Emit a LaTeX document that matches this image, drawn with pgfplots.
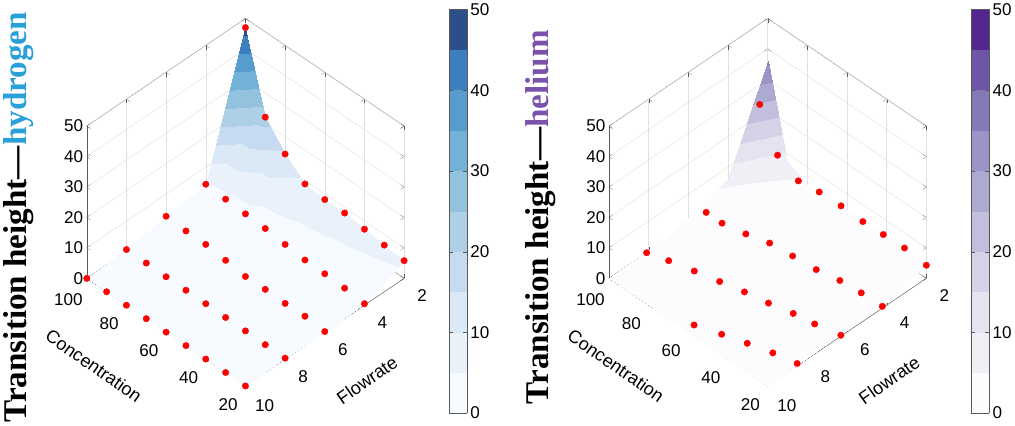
\documentclass[border=0pt]{standalone}
\usepackage{fontspec}
\setmainfont{Liberation Sans}
\newfontfamily\tnr{Liberation Serif}
\usepackage{pgfplots}
\pgfplotsset{compat=1.18}
\definecolor{hcol}{HTML}{29A0D8}
\definecolor{pcol}{HTML}{7B52AB}
\definecolor{hA}{HTML}{F7FBFF}\definecolor{hB}{HTML}{E9F1FA}\definecolor{hC}{HTML}{DBE9F6}\definecolor{hD}{HTML}{C6DBEF}\definecolor{hE}{HTML}{ADD0E6}
\definecolor{hF}{HTML}{92C2DE}\definecolor{hG}{HTML}{73B1D7}\definecolor{hH}{HTML}{569CCD}\definecolor{hI}{HTML}{3C7FBE}\definecolor{hJ}{HTML}{2B4F8A}
\definecolor{pA}{HTML}{FCFBFD}\definecolor{pB}{HTML}{F0EFF6}\definecolor{pC}{HTML}{E4E3EF}\definecolor{pD}{HTML}{D3D2E7}\definecolor{pE}{HTML}{C1BFDD}
\definecolor{pF}{HTML}{ADAAD2}\definecolor{pG}{HTML}{9A95C6}\definecolor{pH}{HTML}{8679B8}\definecolor{pI}{HTML}{6F55A5}\definecolor{pJ}{HTML}{54278F}
\pgfplotsset{
  mybase/.style={
    view={-135}{45}, plot box ratio=1 1 1,
    scale only axis, width=316pt, height=366pt,
    xmin=20,xmax=100,ymin=2,ymax=10,zmin=0,zmax=50,
    xtick={20,40,...,100}, ytick={2,4,...,10}, ztick={0,10,...,50},
    grid=major, major grid style={gray!25},
    axis line style={gray!70!black}, tick style={gray!70!black},
    tick label style={font=\fontsize{17}{17}\selectfont},
    xticklabel style={xshift=-10pt, yshift=-5pt},
    yticklabel style={xshift=12pt, yshift=-6pt},
    /pgf/number format/assume math mode=true,
    clip=false,
    colorbar,
    point meta min=0, point meta max=50,
    colormap access=piecewise constant,
    colorbar style={width=18pt, height=402pt, ytick={0,10,...,50},
      at={(parent axis.east)}, anchor=west, xshift=36pt, yshift=-9pt,
      axis line style={gray!70!black},
      tick label style={font=\fontsize{17}{17}\selectfont},
      /pgf/number format/assume math mode=true},
  },
  dots/.style={only marks, mark=*, mark size=3.2pt, red, mark options={draw=none, fill=red}},
}
\tikzset{lab/.style={anchor=center, font=\fontsize{18}{18}\selectfont},
  big/.style={rotate=90, anchor=center, font=\tnr\bfseries\fontsize{33}{33}\selectfont}}
\begin{document}
\begin{tikzpicture}
\begin{axis}[mybase, name=h,
  colormap={hyd}{color(0)=(hA) color(1)=(hB) color(2)=(hC) color(3)=(hD) color(4)=(hE) color(5)=(hF) color(6)=(hG) color(7)=(hH) color(8)=(hI) color(9)=(hJ) color(10)=(hJ)},
]
\addplot3[surf, shader=interp] table[row sep=\\] {
x y z\\
20 2 5.8\\ 30 2 6.5\\ 40 2 7.3\\ 50 2 8.2\\ 60 2 8.2\\ 70 2 8.9\\ 80 2 14.3\\ 90 2 22\\ 100 2 47\\
\\
20 4 0.5\\ 30 4 1.2\\ 40 4 1.5\\ 50 4 1.6\\ 60 4 2.3\\ 70 4 3.1\\ 80 4 3.5\\ 90 4 3.9\\ 100 4 4.4\\
\\
20 6 0.2\\ 30 6 0.8\\ 40 6 0.6\\ 50 6 0.8\\ 60 6 0.6\\ 70 6 1.5\\ 80 6 2.3\\ 90 6 2.3\\ 100 6 2.7\\
\\
20 8 0.3\\ 30 8 0.3\\ 40 8 0.4\\ 50 8 0.4\\ 60 8 0.5\\ 70 8 0.5\\ 80 8 0.5\\ 90 8 0.6\\ 100 8 0.6\\
\\
20 10 0\\ 30 10 0\\ 40 10 0\\ 50 10 0\\ 60 10 0\\ 70 10 0\\ 80 10 0\\ 90 10 0\\ 100 10 0\\
};
\addplot3[dots] table[row sep=\\] {
x y z\\
20 2 5.8\\ 30 2 6.5\\ 40 2 7.3\\ 50 2 8.2\\ 60 2 8.2\\ 70 2 8.9\\ 80 2 14.3\\ 90 2 22\\ 100 2 47\\
20 4 0.5\\ 30 4 1.2\\ 40 4 1.5\\ 50 4 1.6\\ 60 4 2.3\\ 70 4 3.1\\ 80 4 3.5\\ 90 4 3.9\\ 100 4 4.4\\
20 6 0.2\\ 30 6 0.8\\ 40 6 0.6\\ 50 6 0.8\\ 60 6 0.6\\ 70 6 1.5\\ 80 6 2.3\\ 90 6 2.3\\ 100 6 2.7\\
20 8 0.3\\ 30 8 0.3\\ 40 8 0.4\\ 50 8 0.4\\ 60 8 0.5\\ 70 8 0.5\\ 80 8 0.5\\ 90 8 0.6\\ 100 8 0.6\\
20 10 0\\ 30 10 0\\ 40 10 0\\ 50 10 0\\ 60 10 0\\ 70 10 0\\ 80 10 0\\ 90 10 0\\ 100 10 0\\
};
\end{axis}
\node[big] at ([xshift=-68pt,yshift=-15pt]h.west) {Transition height—\textcolor{hcol}{hydrogen}};
\node[lab, rotate=-35] at ([xshift=7pt,yshift=-163pt]h.west) {Concentration};
\node[lab, rotate=35] at ([xshift=-37pt,yshift=-177pt]h.east) {Flowrate};
\begin{axis}[mybase, name=p, at={(520pt,0)},
  colormap={hel}{color(0)=(pA) color(1)=(pB) color(2)=(pC) color(3)=(pD) color(4)=(pE) color(5)=(pF) color(6)=(pG) color(7)=(pH) color(8)=(pI) color(9)=(pJ) color(10)=(pJ)},
]
\addplot3[surf, shader=interp] table[row sep=\\] {
x y z\\
20 2 4.3\\ 30 2 5\\ 40 2 4.8\\ 50 2 4.5\\ 60 2 4.8\\ 70 2 4.5\\ 80 2 4\\ 90 2 7.5\\ 100 2 36\\
\\
20 4 1\\ 30 4 1\\ 40 4 1\\ 50 4 1\\ 60 4 1\\ 70 4 1.2\\ 80 4 1.5\\ 90 4 2\\ 100 4 6\\
\\
20 6 0.7\\ 30 6 0.5\\ 40 6 0.5\\ 50 6 0.5\\ 60 6 0.5\\ 70 6 0.6\\ 80 6 0.8\\ 90 6 1\\ 100 6 2\\
\\
20 8 0.3\\ 30 8 0.3\\ 40 8 0.3\\ 50 8 0.3\\ 60 8 0.3\\ 70 8 0.3\\ 80 8 0.4\\ 90 8 0.5\\ 100 8 0.6\\
\\
20 10 0\\ 30 10 0\\ 40 10 0\\ 50 10 0\\ 60 10 0\\ 70 10 0\\ 80 10 0\\ 90 10 0\\ 100 10 0\\
};
\addplot3[dots] table[row sep=\\] {
x y z\\
20 2 4.3\\ 31 2 5.1\\ 41.7 2 4.8\\ 52 2 4.5\\ 63 2 4.8\\ 74 2 4.5\\ 84.5 2 3.5\\ 95 2 7.3\\ 100 2.4 23.5\\
20.7 4.15 0\\ 31 4.18 0\\ 41 4.26 0\\ 51 4.45 0\\ 62 4.54 0\\ 72.6 4.64 0\\ 82 4.9 0\\ 92 5.1 0\\ 100 5.1 0\\
20.4 6.27 0\\ 31.2 6.51 0\\ 40.5 6.66 0\\ 50.6 6.9 0\\ 60.8 7.09 0\\ 70.9 7.33 0\\ 81.2 7.58 0\\ 91.5 7.84 0\\ 100 8.1 0\\
20.9 8.42 0\\ 31 8.64 0\\ 41 8.93 0\\ 50.8 9.24 0\\ 61.2 9.59 0\\
};
\end{axis}
\node[big] at ([xshift=-68pt,yshift=-15pt]p.west) {Transition height—\textcolor{pcol}{helium}};
\node[lab, rotate=-35] at ([xshift=7pt,yshift=-163pt]p.west) {Concentration};
\node[lab, rotate=35] at ([xshift=-37pt,yshift=-177pt]p.east) {Flowrate};
\end{tikzpicture}
\end{document}
